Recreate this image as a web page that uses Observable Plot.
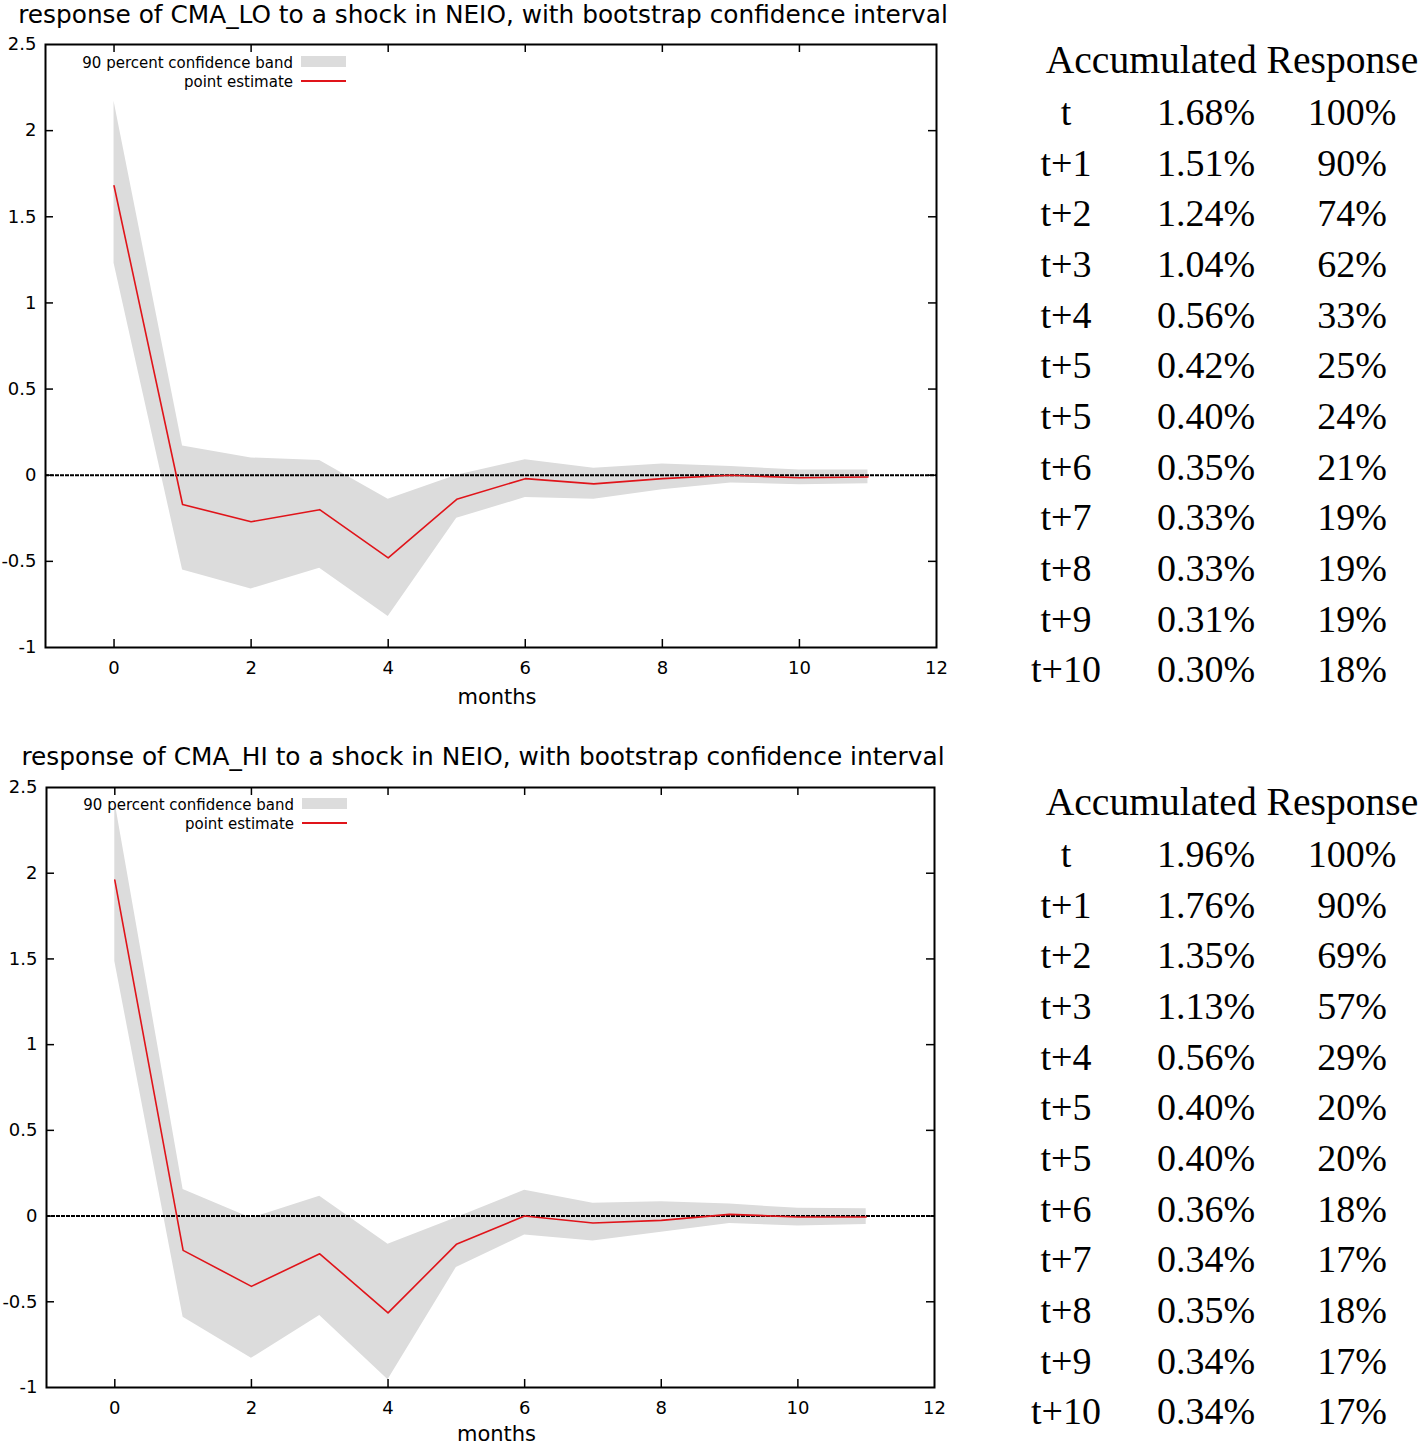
<!DOCTYPE html>
<html><head><meta charset="utf-8">
<script src="https://cdn.jsdelivr.net/npm/d3@7"></script>
<script src="https://cdn.jsdelivr.net/npm/@observablehq/plot@0.6"></script>
<style>
body{margin:0;background:#fff;}
#root{position:relative;width:1424px;height:1444px;overflow:hidden;font-family:"DejaVu Sans",sans-serif;color:#000;}
.title{position:absolute;font-size:24.8px;white-space:nowrap;transform:translate(-50%,-50%);}
.chart{position:absolute;left:0;}
.legtxt{position:absolute;font-size:15px;white-space:nowrap;transform:translate(-100%,-50%);}
.sw{position:absolute;}
.cell{position:absolute;transform:translate(-50%,-50%);white-space:nowrap;font-family:"Liberation Serif",serif;font-size:38px;}
.cell.head{font-size:39.6px;}
.chart text{font-size:18px;}
</style>
</head><body><div id="root"></div>
<script>
// ---- data ----
const months = [0,1,2,3,4,5,6,7,8,9,10,11];
const loPoint = [1.68,-0.17,-0.27,-0.20,-0.48,-0.14,-0.02,-0.05,-0.02,0.00,-0.015,-0.01];
const loUpper = [2.17,0.17,0.10,0.085,-0.14,0.0,0.09,0.04,0.065,0.05,0.03,0.03];
const loLower = [1.23,-0.55,-0.66,-0.54,-0.82,-0.25,-0.13,-0.14,-0.085,-0.045,-0.055,-0.05];
const hiPoint = [1.96,-0.20,-0.41,-0.22,-0.565,-0.165,0.00,-0.04,-0.025,0.01,-0.005,-0.005];
const hiUpper = [2.42,0.155,-0.012,0.115,-0.165,-0.01,0.15,0.075,0.083,0.07,0.045,0.043];
const hiLower = [1.485,-0.59,-0.83,-0.58,-0.955,-0.30,-0.11,-0.145,-0.095,-0.043,-0.058,-0.049];
const xTicks = [0,2,4,6,8,10,12];
const yTicks = [-1,-0.5,0,0.5,1,1.5,2,2.5];

const tableHeader = "Accumulated Response";
const tableLabels = ["t","t+1","t+2","t+3","t+4","t+5","t+5","t+6","t+7","t+8","t+9","t+10"];
const loAccum = [1.68,1.51,1.24,1.04,0.56,0.42,0.40,0.35,0.33,0.33,0.31,0.30];
const loShare = [100,90,74,62,33,25,24,21,19,19,19,18];
const hiAccum = [1.96,1.76,1.35,1.13,0.56,0.40,0.40,0.36,0.34,0.35,0.34,0.34];
const hiShare = [100,90,69,57,29,20,20,18,17,18,17,17];

const titles = [
  "response of CMA_LO to a shock in NEIO, with bootstrap confidence interval",
  "response of CMA_HI to a shock in NEIO, with bootstrap confidence interval"
];
const legendLabels = ["90 percent confidence band","point estimate"];

const root = document.getElementById("root");

function chart(p, point, upper, lower){
  const data = months.map((m,i)=>({m, point: point[i], upper: upper[i], lower: lower[i]}));
  const W = 960;
  const fh = p.bottom - p.top;
  const fw = p.right - p.left;
  const xin = xTicks.filter(d => d > -1 && d < 12);
  const yin = yTicks.filter(d => d > -1 && d < 2.5);
  return Plot.plot({
    width: W, height: p.height,
    marginTop: p.top, marginLeft: p.left, marginRight: W - p.right, marginBottom: p.height - p.bottom,
    style: {fontFamily: "DejaVu Sans", fontSize: "18px", color: "#000", background: "transparent", overflow: "visible"},
    x: {domain: [-1, 12]},
    y: {domain: [-1, 2.5]},
    marks: [
      Plot.areaY(data, {x: "m", y1: "lower", y2: "upper", fill: "#dcdcdc"}),
      Plot.ruleY([0], {stroke: "#000", strokeWidth: 2, strokeDasharray: "4,1"}),
      Plot.line(data, {x: "m", y: "point", stroke: "#e0141a", strokeWidth: 1.6}),
      Plot.tickX(xin, {x: d => d, insetTop: fh - 8, stroke: "#000", strokeWidth: 1.5}),
      Plot.tickX(xin, {x: d => d, insetBottom: fh - 8, stroke: "#000", strokeWidth: 1.5}),
      Plot.tickY(yin, {y: d => d, insetRight: fw - 8, stroke: "#000", strokeWidth: 1.5}),
      Plot.tickY(yin, {y: d => d, insetLeft: fw - 8, stroke: "#000", strokeWidth: 1.5}),
      Plot.frame({stroke: "#000", strokeWidth: 2}),
      Plot.axisX(xTicks, {tickSize: 0, tickPadding: 14, label: null, tickFormat: d => String(d), fontSize: 18}),
      Plot.axisY(yTicks, {tickSize: 0, tickPadding: 9, label: null, tickFormat: d => String(d), fontSize: 18}),
      Plot.text(["months"], {frameAnchor: "bottom", dx: 6, dy: p.labelDy, fontSize: 21})
    ]
  });
}

function panel(off, p, point, upper, lower, title, leg, accum, share){
  const c = chart(p, point, upper, lower);
  c.classList.add("chart");
  c.style.top = off + "px";
  c.style.position = "absolute";
  root.appendChild(c);
  c.querySelectorAll("text").forEach(el => { if (el.textContent === "months") el.style.fontSize = "21px"; });

  const t = document.createElement("div");
  t.className = "title"; t.textContent = title;
  t.style.left = "483px"; t.style.top = (off + 14) + "px";
  root.appendChild(t);

  // legend
  const l1 = document.createElement("div");
  l1.className = "legtxt"; l1.textContent = legendLabels[0];
  l1.style.left = leg.x + "px"; l1.style.top = (off + leg.y1) + "px";
  root.appendChild(l1);
  const l2 = document.createElement("div");
  l2.className = "legtxt"; l2.textContent = legendLabels[1];
  l2.style.left = leg.x + "px"; l2.style.top = (off + leg.y2) + "px";
  root.appendChild(l2);
  const s1 = document.createElement("div");
  s1.className = "sw";
  Object.assign(s1.style, {left: (leg.x + 8) + "px", top: (off + leg.y1 - 7) + "px", width: "45px", height: "11px", background: "#dcdcdc"});
  root.appendChild(s1);
  const s2 = document.createElement("div");
  s2.className = "sw";
  Object.assign(s2.style, {left: (leg.x + 8) + "px", top: (off + leg.y2 - 2) + "px", width: "45px", height: "1.6px", background: "#e0141a"});
  root.appendChild(s2);

  // table
  const cell = (txt, x, y, cls) => {
    const d = document.createElement("div");
    d.className = "cell" + (cls ? " " + cls : ""); d.textContent = txt;
    d.style.left = x + "px"; d.style.top = y + "px";
    root.appendChild(d);
  };
  cell(tableHeader, 1232, off + 60, "head");
  tableLabels.forEach((lab, i) => {
    const y = off + 112 + i * 50.65;
    cell(lab, 1066, y);
    cell(accum[i].toFixed(2) + "%", 1206, y);
    cell(share[i] + "%", 1352, y);
  });
}

panel(0, {top: 44, bottom: 647, left: 45, right: 936, height: 710, labelDy: 56}, loPoint, loUpper, loLower, titles[0], {x: 293, y1: 63, y2: 82}, loAccum, loShare);
panel(742, {top: 45, bottom: 645, left: 46, right: 934, height: 702, labelDy: 53}, hiPoint, hiUpper, hiLower, titles[1], {x: 294, y1: 63, y2: 82}, hiAccum, hiShare);
</script>
</body></html>
